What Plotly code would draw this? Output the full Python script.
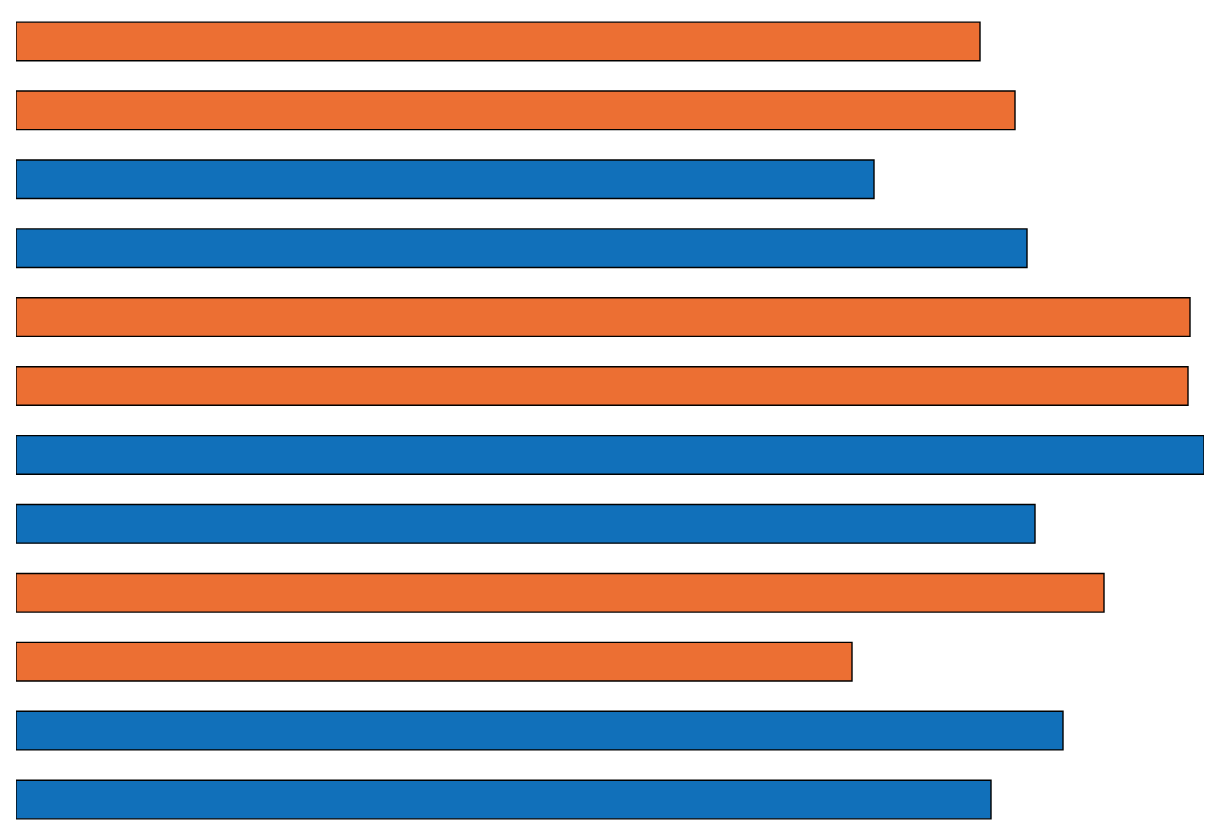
import plotly.graph_objects as go

categories = ["A", "B", "C", "D", "E", "F", "G", "H", "I", "J", "K", "L"]
values = [964, 999, 858, 1011, 1174, 1172, 1188, 1019, 1088, 836, 1047, 975]
groups = ["o", "o", "b", "b", "o", "o", "b", "b", "o", "o", "b", "b"]
palette = {"o": "#EC6F33", "b": "#1170BA"}

fig = go.Figure(go.Bar(
    y=categories, x=values, orientation="h",
    marker=dict(color=[palette[g] for g in groups], line=dict(color="#000000", width=1.4)),
    hoverinfo="x+y",
))
fig.update_layout(
    width=1223, height=839,
    margin=dict(l=8, r=27, t=0, b=13),
    paper_bgcolor="white", plot_bgcolor="white",
    bargap=0.44, showlegend=False,
    xaxis=dict(range=[0, 1188], visible=False, showgrid=False, zeroline=False),
    yaxis=dict(range=[11.5, -0.485], visible=False, showgrid=False),
)
fig.write_html("out.html")
